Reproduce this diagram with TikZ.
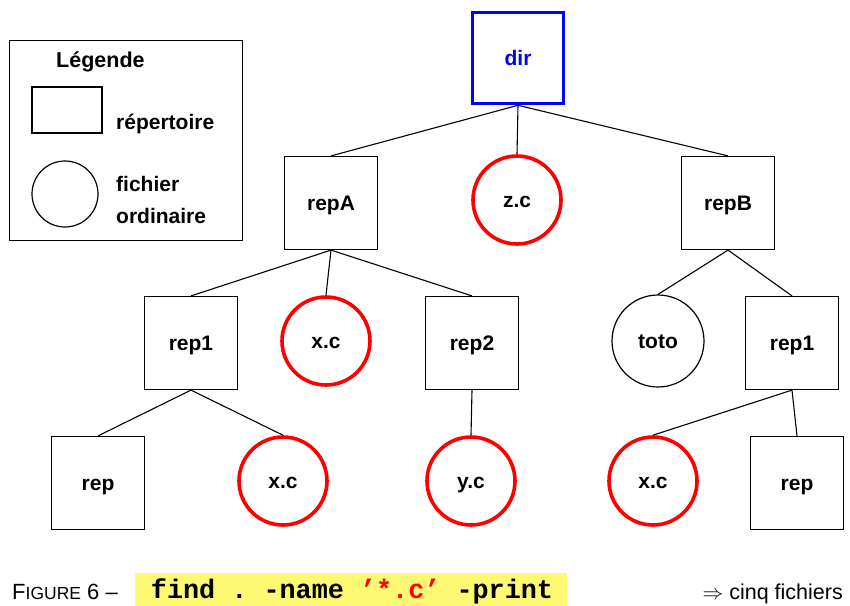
\documentclass[tikz,border=0pt]{standalone}
\usepackage{fontspec}
\setmainfont{Liberation Sans}
\setmonofont{Liberation Mono}
\begin{document}
\begin{tikzpicture}[x=1pt,y=-1pt,
  every node/.style={font=\fontsize{21}{23}\selectfont\bfseries},
  treenode/.style={inner sep=0pt, text height=15pt, text depth=0pt},
  repbox/.style={treenode, draw, line width=1.2pt, minimum size=93pt},
  rootbox/.style={treenode, draw=blue, line width=3.6pt, minimum size=91pt, text=blue},
  cfile/.style={treenode, draw=red, line width=3.6pt, circle, minimum size=88pt},
  ofile/.style={treenode, draw, line width=1.2pt, circle, minimum size=92pt},
  link/.style={line width=1.1pt},
  legtext/.style={anchor=base west, align=left, inner sep=0pt}
]
\useasboundingbox (0,0) rectangle (850,605);
% legend
\node[draw, line width=1pt, minimum width=233pt, minimum height=200pt, inner sep=0pt] (leg) at (125.5,140) {};
\node[legtext, font=\fontsize{21.5}{23}\selectfont\bfseries] (legtitle) at (56,67) {Légende};
\node[draw, line width=1.2pt, minimum width=70pt, minimum height=46pt, inner sep=0pt] (legrep) at (67,110) {};
\node[legtext] (legreptxt) at (116,129) {répertoire};
\node[draw, line width=1.2pt, circle, minimum size=66pt, inner sep=0pt] (legfile) at (65,194) {};
\node[legtext] (legfiletxt1) at (116,191) {fichier};
\node[legtext] (legfiletxt2) at (116,223) {ordinaire};
% tree
\node[rootbox] (dir) at (518,58) {dir};
\node[repbox] (repA) at (331,203) {repA};
\node[cfile] (zc) at (517,200) {z.c};
\node[repbox] (repB) at (728,203) {repB};
\node[repbox] (rep1a) at (191,343) {rep1};
\node[cfile] (xc1) at (326,341) {x.c};
\node[repbox] (rep2) at (472,343) {rep2};
\node[ofile] (toto) at (658,341) {toto};
\node[repbox] (rep1b) at (792,343) {rep1};
\node[repbox] (repa) at (98,483) {rep};
\node[cfile] (xc2) at (283,481) {x.c};
\node[cfile] (yc) at (471,481) {y.c};
\node[cfile] (xc3) at (653,481) {x.c};
\node[repbox] (repb) at (797,483) {rep};
% links
\draw[link] (dir.south) -- (repA.north);
\draw[link] (dir.south) -- (zc.north);
\draw[link] (dir.south) -- (repB.north);
\draw[link] (repA.south) -- (rep1a.north);
\draw[link] (repA.south) -- (xc1.north);
\draw[link] (repA.south) -- (rep2.north);
\draw[link] (repB.south) -- (toto.north);
\draw[link] (repB.south) -- (rep1b.north);
\draw[link] (rep1a.south) -- (repa.north);
\draw[link] (rep1a.south) -- (xc2.north);
\draw[link] (rep2.south) -- (yc.north);
\draw[link] (rep1b.south) -- (xc3.north);
\draw[link] (rep1b.south) -- (repb.north);
% caption
\node[anchor=base west, inner sep=0pt, font=\fontsize{22}{24}\selectfont] (figlabel) at (12,599) {F{\fontsize{17.5}{19}\selectfont IGURE} 6 –};
\node[fill=yellow!55, inner sep=0pt, minimum width=432pt, minimum height=33pt, anchor=north west] (cmdbg) at (135,573) {};
\node[anchor=base, inner sep=0pt, font=\fontsize{26.8}{28}\ttfamily\bfseries] (cmd) at (352,598) {find . -name \textcolor{red}{’*.c’} -print};
\node[anchor=base east, inner sep=0pt, font=\fontsize{21.5}{23}\selectfont] (result) at (843,599) {$\Rightarrow$ cinq fichiers};
\end{tikzpicture}
\end{document}
